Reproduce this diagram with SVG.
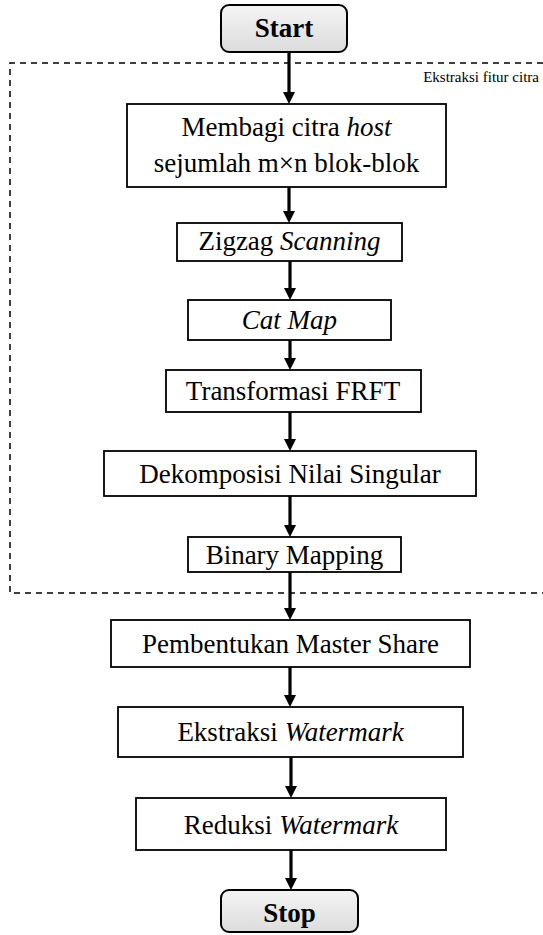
<svg xmlns="http://www.w3.org/2000/svg" width="543" height="935" viewBox="0 0 543 935">
<style>
.box{fill:#ffffff;stroke:#000;stroke-width:1.8}
.term{fill:url(#gr);stroke:#000;stroke-width:2}
.t{font-family:"Liberation Serif","Times New Roman",serif;font-size:27px;fill:#000;text-anchor:middle}
.b{font-weight:bold}
.i{font-style:italic}
.lbl{font-family:"Liberation Serif","Times New Roman",serif;font-size:15px;fill:#000;text-anchor:end}
.ar{stroke:#000;stroke-width:3.2;fill:none;marker-end:url(#ah)}
</style>
<defs>
<linearGradient id="gr" x1="0" y1="0" x2="0" y2="1">
<stop offset="0" stop-color="#f4f4f4"/>
<stop offset="1" stop-color="#dcdcdc"/>
</linearGradient>
<marker id="ah" viewBox="0 0 12 12" refX="0" refY="6" markerWidth="12" markerHeight="12" markerUnits="userSpaceOnUse" orient="auto">
<path d="M0,0 L12,6 L0,12 z" fill="#000"/>
</marker>
</defs>
<rect width="543" height="935" fill="#ffffff"/>
<g id="region">
<path d="M543,63 H10 V593 H543" fill="none" stroke="#000" stroke-width="1.5" stroke-dasharray="6 5"/>
<text class="lbl" x="539" y="82">Ekstraksi fitur citra</text>
</g>
<g id="connectors">
<path class="ar" d="M289,52 V92"/>
<path class="ar" d="M289,187 V211"/>
<path class="ar" d="M290,261 V288"/>
<path class="ar" d="M290,340 V358"/>
<path class="ar" d="M290,412 V439"/>
<path class="ar" d="M290,496 V525"/>
<path class="ar" d="M290,572 V608"/>
<path class="ar" d="M290,667 V695"/>
<path class="ar" d="M291,757 V786"/>
<path class="ar" d="M291,850 V878"/>
</g>
<g id="start">
<rect class="term" x="221" y="5" width="126" height="47" rx="8"/>
<text class="t b" x="284" y="37">Start</text>
</g>
<g id="n1">
<rect class="box" x="127" y="104" width="319" height="83"/>
<text class="t" x="286.5" y="136">Membagi citra <tspan class="i">host</tspan></text>
<text class="t" x="286.5" y="172">sejumlah m×n blok-blok</text>
</g>
<g id="n2">
<rect class="box" x="177" y="223" width="225" height="38"/>
<text class="t" x="289.5" y="250">Zigzag <tspan class="i">Scanning</tspan></text>
</g>
<g id="n3">
<rect class="box" x="188" y="300" width="203" height="40"/>
<text class="t i" x="289.5" y="329">Cat Map</text>
</g>
<g id="n4">
<rect class="box" x="166" y="370" width="255" height="42"/>
<text class="t" x="293" y="400">Transformasi FRFT</text>
</g>
<g id="n5">
<rect class="box" x="104" y="451" width="372" height="45"/>
<text class="t" x="290" y="483">Dekomposisi Nilai Singular</text>
</g>
<g id="n6">
<rect class="box" x="188" y="537" width="213" height="35"/>
<text class="t" x="294.5" y="564">Binary Mapping</text>
</g>
<g id="n7">
<rect class="box" x="111" y="620" width="359" height="47"/>
<text class="t" x="290.5" y="653">Pembentukan Master Share</text>
</g>
<g id="n8">
<rect class="box" x="118" y="707" width="345" height="50"/>
<text class="t" x="290.5" y="741">Ekstraksi <tspan class="i">Watermark</tspan></text>
</g>
<g id="n9">
<rect class="box" x="136" y="798" width="310" height="52"/>
<text class="t" x="291" y="834">Reduksi <tspan class="i">Watermark</tspan></text>
</g>
<g id="stop">
<rect class="term" x="221" y="890" width="137" height="42" rx="8"/>
<text class="t b" x="289.5" y="922">Stop</text>
</g>
</svg>
